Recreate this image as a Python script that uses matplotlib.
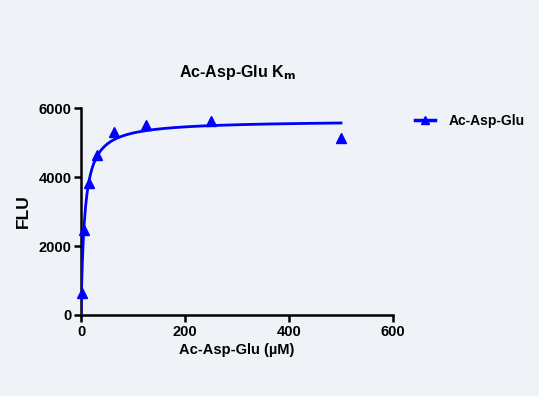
import numpy as np
import matplotlib
matplotlib.use('Agg')
import matplotlib.pyplot as plt

# substrate concentration (uM) and fluorescence
conc = [1.0, 5.5, 15.6, 31.25, 62.5, 125, 250, 500]
flu = [650, 2450, 3830, 4640, 5300, 5500, 5620, 5130]

xticks = [0, 200, 400, 600]
yticks = [0, 2000, 4000, 6000]

plt.rcParams['font.family'] = ['Liberation Sans', 'DejaVu Sans']
plt.rcParams['font.weight'] = 'bold'

# Michaelis-Menten fit: grid over Km, closed-form Vmax
x = np.array(conc)
y = np.array(flu)
best = None
for km in np.linspace(0.5, 50, 2000):
    f = x / (km + x)
    vmax = (f * y).sum() / (f * f).sum()
    err = ((vmax * f - y) ** 2).sum()
    if best is None or err < best[0]:
        best = (err, km, vmax)
_, km, vmax = best
xf = np.linspace(0, 500, 400)
yf = vmax * xf / (km + xf)

bg = '#eff3f7'
fig = plt.figure(figsize=(5.39, 3.96), dpi=100, facecolor=bg)
ax = fig.add_axes([81/539, 81/396, 312/539, 207/396], facecolor=bg)

ax.plot(xf, yf, color='#0000ff', lw=2, zorder=3)
ax.plot(x, y, '^', color='#0000ff', ms=7, zorder=4, clip_on=False)
# legend handle
ax.plot([], [], '-^', color='#0000ff', lw=2.5, ms=6, label='Ac-Asp-Glu')

ax.set_xlim(0, 600)
ax.set_ylim(0, 6000)
ax.set_xticks(xticks)
ax.set_yticks(yticks)
for s in ['top', 'right']:
    ax.spines[s].set_visible(False)
for s in ['left', 'bottom']:
    ax.spines[s].set_linewidth(1.8)
ax.tick_params(width=1.8, length=5, labelsize=10.5, pad=2)
for lab in ax.get_xticklabels() + ax.get_yticklabels():
    lab.set_fontweight('bold')

ax.set_xlabel('Ac-Asp-Glu (\u00b5M)', fontsize=10.5, fontweight='bold', labelpad=3)
ax.set_ylabel('FLU', fontsize=12.5, fontweight='bold', labelpad=5)
ax.set_title('Ac-Asp-Glu K$_{\\mathbf{m}}$', fontsize=11.5, fontweight='bold', pad=22)

ax.legend(loc='upper left', bbox_to_anchor=(1.03, 1.03), frameon=False,
          handlelength=1.45, handletextpad=1.0,
          prop={'weight': 'bold', 'size': 10})

fig.savefig('out.png', dpi=100, facecolor=bg)
